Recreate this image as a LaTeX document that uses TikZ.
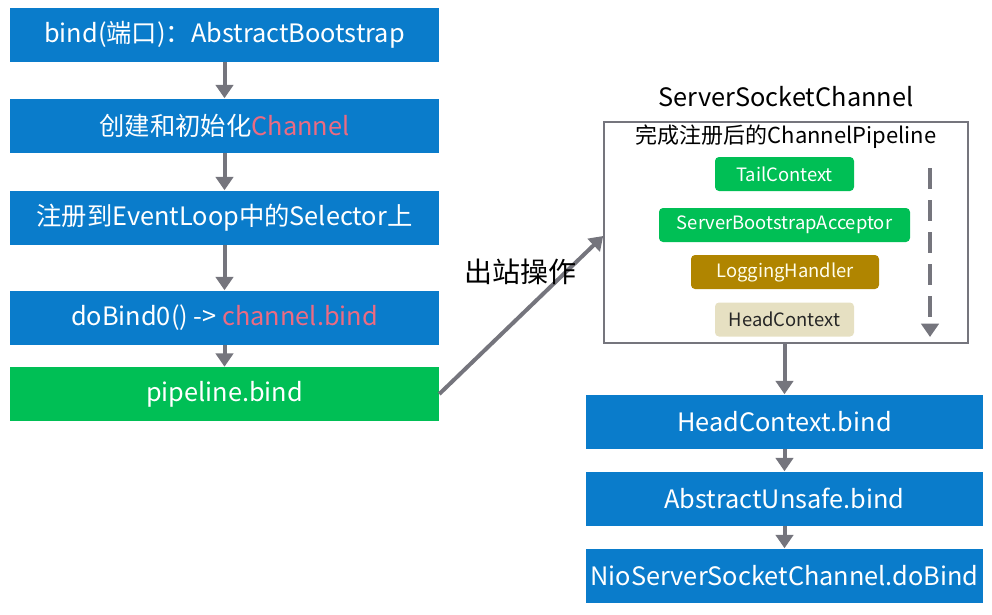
\documentclass[tikz,border=0pt]{standalone}
\usepackage{fontspec}
\setmainfont{Noto Sans CJK SC}
\usepackage{xcolor}
\usetikzlibrary{arrows.meta}

\definecolor{flowblue}{HTML}{0A7CCB}
\definecolor{flowgreen}{HTML}{00BF55}
\definecolor{logbrown}{HTML}{B08500}
\definecolor{headbeige}{HTML}{E6E0C2}
\definecolor{linkred}{HTML}{EC6B82}
\definecolor{arrowgrey}{HTML}{75757D}

\tikzset{
  stepbox/.style={fill=flowblue, text=white, font=\fontsize{19}{21}\selectfont,
    minimum height=40.5pt, inner sep=0pt},
  leftbox/.style={stepbox, minimum width=321.75pt},
  rightbox/.style={stepbox, minimum width=297.75pt},
  pill/.style={rounded corners=3pt, text=white, minimum height=25.5pt,
    inner sep=0pt, font=\fontsize{13.8}{15}\selectfont},
  flow/.style={draw=arrowgrey, line width=3pt,
    -{Triangle[length=10pt,width=13pt]}},
}

\begin{document}
\begin{tikzpicture}[x=0.75pt,y=-0.75pt]
	\useasboundingbox (0,0) rectangle (992,614);
	% left column
	\node[leftbox] (bind) at (224.5,34.5) {bind(端口)：AbstractBootstrap};
	\node[leftbox] (create) at (224.5,125.5) {创建和初始化\textcolor{linkred}{Channel}};
	\node[leftbox] (register) at (224.5,217.5) {注册到EventLoop中的Selector上};
	\node[leftbox] (dobind) at (224.5,317.5) {doBind0() -> \textcolor{linkred}{channel.bind}};
	\node[leftbox, fill=flowgreen] (pipebind) at (224.5,394) {pipeline.bind};
	\draw[flow] (bind) -- (create);
	\draw[flow] (create) -- (register);
	\draw[flow] (register) -- (dobind);
	\draw[flow] (dobind) -- (pipebind);

	% server socket channel
	\node[font=\fontsize{19}{21}\selectfont] (sscTitle) at (786,97) {ServerSocketChannel};
	\node[draw=arrowgrey, line width=1.2pt, minimum width=273pt, minimum height=165.75pt] (pipeline) at (786,232.5) {};
	\node[font=\fontsize{16.5}{18}\selectfont] (pipeTitle) at (786,137) {完成注册后的ChannelPipeline};
	\node[pill, fill=flowgreen, minimum width=104.25pt] (tail) at (784.5,174) {TailContext};
	\node[pill, fill=flowgreen, minimum width=188.25pt] (acceptor) at (784.5,225) {ServerBootstrapAcceptor};
	\node[pill, fill=logbrown, text=white!92!yellow, minimum width=141pt] (logging) at (785,272) {LoggingHandler};
	\node[pill, fill=headbeige, text=black!85, minimum width=104.25pt] (head) at (784.5,319.5) {HeadContext};
	\coordinate (dashTop) at (930,168);
	\coordinate (dashEnd) at (930,337);
	\draw[draw=arrowgrey, line width=3pt, dash pattern=on 16pt off 8pt,
	  -{Triangle[length=10pt,width=13pt]}] (dashTop) -- (dashEnd);

	% right column
	\node[rightbox] (headbind) at (784.5,421.5) {HeadContext.bind};
	\node[rightbox] (unsafe) at (784.5,498.5) {AbstractUnsafe.bind};
	\node[rightbox] (niobind) at (784.5,575.5) {NioServerSocketChannel.doBind};
	\draw[flow] (pipeline.south -| headbind.north) -- (headbind);
	\draw[flow] (headbind) -- (unsafe);
	\draw[flow] (unsafe) -- (niobind);

	% outbound
	\draw[flow] (pipebind.east) -- (pipeline.west |- 0,236);
	\node[font=\fontsize{21}{23}\selectfont] (outbound) at (520,272) {出站操作};
\end{tikzpicture}
\end{document}
